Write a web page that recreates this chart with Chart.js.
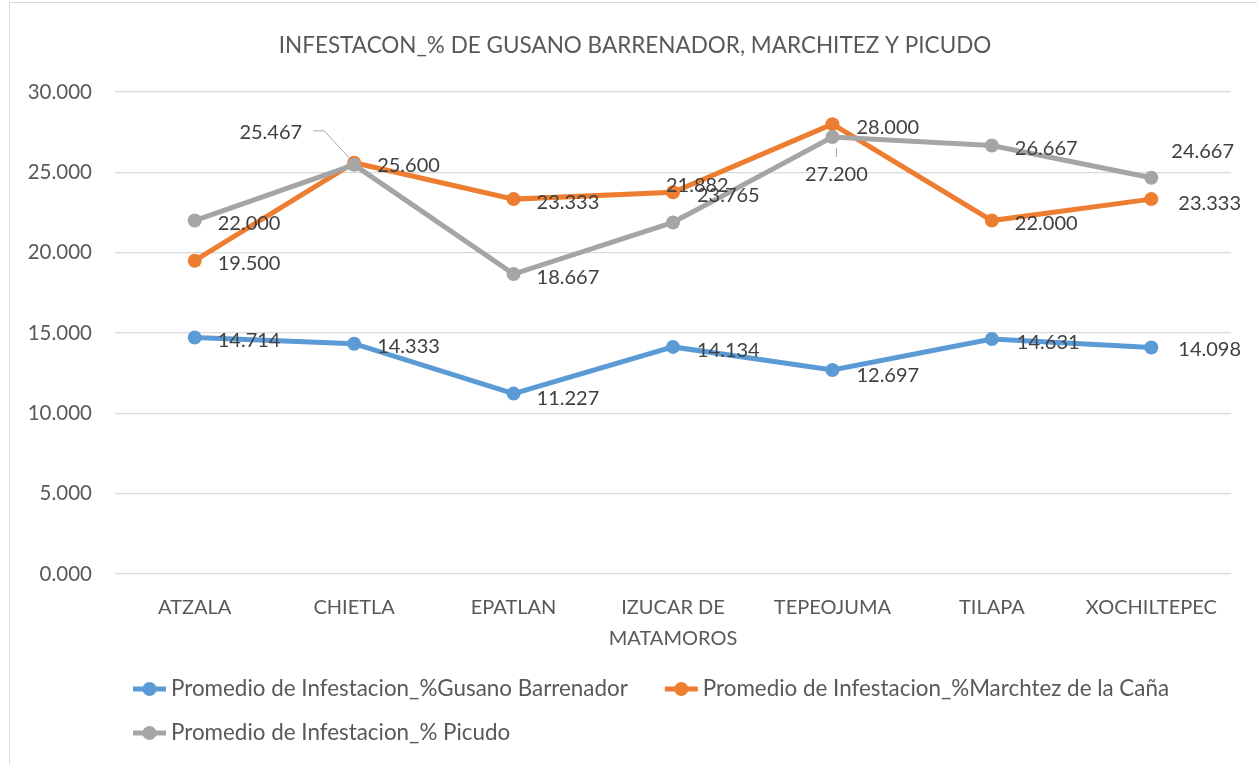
<!DOCTYPE html>
<html>
<head>
<meta charset="utf-8">
<script src="https://cdn.jsdelivr.net/npm/chart.js@4.4.1/dist/chart.umd.min.js"></script>
<style>
  html, body { margin: 0; padding: 0; background: #ffffff; }
  #wrap { width: 1257px; height: 764px; position: relative; }
</style>
</head>
<body>
<div id="wrap"><canvas id="c" width="1257" height="764"></canvas></div>
<script>
// ---- data ----
const categories = ['ATZALA', 'CHIETLA', 'EPATLAN', ['IZUCAR DE', 'MATAMOROS'], 'TEPEOJUMA', 'TILAPA', 'XOCHILTEPEC'];
const gusanoBarrenador = [14.714, 14.333, 11.227, 14.134, 12.697, 14.631, 14.098];
const marchitezCana    = [19.500, 25.600, 23.333, 23.765, 28.000, 22.000, 23.333];
const picudo           = [22.000, 25.467, 18.667, 21.882, 27.200, 26.667, 24.667];
const seriesNames = [
  'Promedio de Infestacion_%Gusano Barrenador',
  'Promedio de Infestacion_%Marchtez de la Caña',
  'Promedio de Infestacion_% Picudo'
];
const yTicks = [0, 5, 10, 15, 20, 25, 30];
const chartTitle = 'INFESTACON_% DE GUSANO BARRENADOR, MARCHITEZ Y PICUDO';

// ---- styles ----
const FONT = 'Lato, "Liberation Sans", sans-serif';
const colors = ['#5B9BD5', '#ED7D31', '#A5A5A5'];
const textColor = '#595959';
const labelColor = '#404040';

// label placement relative to point: dx = left edge (or right edge if align right / center), dy = vertical center
const D = { dx: 23, dy: 3, align: 'left' };
const labelPlacement = [
  [D, D, { dx: 23, dy: 5, align: 'left' }, { dx: 24, dy: 4, align: 'left' }, { dx: 24, dy: 6, align: 'left' }, { dx: 25, dy: 4, align: 'left' }, { dx: 27, dy: 2, align: 'left' }],
  [D, D, D, { dx: 24, dy: 3, align: 'left' }, { dx: 24, dy: 3, align: 'left' }, D, { dx: 27, dy: 4, align: 'left' }],
  [D,
   { dx: -52, dy: -32, align: 'right', leader: [[-41, -34], [-30, -34], [-4, -6]] },
   D,
   { dx: -7, dy: -37, align: 'left', leader: [[6, -6], [34, -19]] },
   { dx: 4, dy: 38, align: 'center', leader: [[4, 11], [4, 20]] },
   D,
   { dx: 20, dy: -26, align: 'left' }]
];

const borderPlugin = {
  id: 'outerBorder',
  beforeDraw(chart) {
    const ctx = chart.ctx;
    ctx.save();
    ctx.fillStyle = '#ffffff';
    ctx.fillRect(0, 0, chart.width, chart.height);
    ctx.strokeStyle = '#D9D9D9';
    ctx.lineWidth = 1;
    ctx.strokeRect(9.5, 2.5, 1260, 770);
    ctx.restore();
  }
};

const titlePlugin = {
  id: 'excelTitle',
  afterDraw(chart) {
    const ctx = chart.ctx;
    ctx.save();
    ctx.font = '22.5px ' + FONT;
    ctx.fillStyle = textColor;
    ctx.textAlign = 'center';
    ctx.textBaseline = 'middle';
    ctx.fillText(chartTitle, 635, 46);
    ctx.restore();
  }
};

const valueLabels = {
  id: 'valueLabels',
  afterDatasetsDraw(chart) {
    const ctx = chart.ctx;
    ctx.save();
    ctx.font = '20px ' + FONT;
    ctx.fillStyle = labelColor;
    ctx.textBaseline = 'middle';
    chart.data.datasets.forEach((ds, di) => {
      const meta = chart.getDatasetMeta(di);
      meta.data.forEach((pt, i) => {
        const p = labelPlacement[di][i];
        if (p.leader) {
          ctx.save();
          ctx.strokeStyle = '#A6A6A6';
          ctx.lineWidth = 1;
          ctx.beginPath();
          p.leader.forEach((q, k) => {
            const lx = pt.x + q[0], ly = pt.y + q[1];
            if (k === 0) ctx.moveTo(lx, ly); else ctx.lineTo(lx, ly);
          });
          ctx.stroke();
          ctx.restore();
        }
        ctx.textAlign = p.align;
        ctx.fillText(ds.data[i].toFixed(3), pt.x + p.dx, pt.y + p.dy);
      });
    });
    ctx.restore();
  }
};

const customLegend = {
  id: 'customLegend',
  afterDraw(chart) {
    const ctx = chart.ctx;
    ctx.save();
    ctx.font = '22.4px ' + FONT;
    ctx.textBaseline = 'middle';
    ctx.textAlign = 'left';
    const rows = [[0, 1], [2]];
    const rowY = [689, 733];
    rows.forEach((row, r) => {
      let x = 133;
      row.forEach(di => {
        const ds = chart.data.datasets[di];
        const y = rowY[r];
        ctx.strokeStyle = ds.borderColor;
        ctx.lineWidth = 5;
        ctx.beginPath(); ctx.moveTo(x, y); ctx.lineTo(x + 33, y); ctx.stroke();
        ctx.fillStyle = ds.borderColor;
        ctx.beginPath(); ctx.arc(x + 16.5, y, 7, 0, Math.PI * 2); ctx.fill();
        ctx.fillStyle = textColor;
        ctx.fillText(ds.label, x + 38, y);
        x += 38 + ctx.measureText(ds.label).width + 37;
      });
    });
    ctx.restore();
  }
};

const seriesData = [gusanoBarrenador, marchitezCana, picudo];
const datasets = seriesData.map((d, i) => ({
  label: seriesNames[i],
  data: d,
  borderColor: colors[i],
  backgroundColor: colors[i],
  borderWidth: 5,
  pointRadius: 7,
  pointHoverRadius: 7,
  pointBorderWidth: 0,
  pointBackgroundColor: colors[i],
  tension: 0,
  order: 3 - i
}));

new Chart(document.getElementById('c'), {
  type: 'line',
  data: { labels: categories, datasets },
  options: {
    responsive: false,
    animation: false,
    events: [],
    layout: { padding: { left: 15, right: 26, top: 92, bottom: 100 } },
    plugins: {
      legend: { display: false },
      tooltip: { enabled: false },
      title: { display: false }
    },
    scales: {
      y: {
        min: 0, max: 30,
        afterBuildTicks(scale) { scale.ticks = yTicks.map(v => ({ value: v })); },
        afterFit(scale) { scale.width = 100; },
        ticks: {
          color: textColor,
          font: { family: FONT, size: 20.5 },
          padding: 23,
          callback: v => Number(v).toFixed(3)
        },
        grid: { color: '#D9D9D9', lineWidth: 1.3, drawTicks: false },
        border: { display: false }
      },
      x: {
        offset: true,
        afterFit(scale) { scale.height = 90; },
        ticks: {
          color: textColor,
          font: { family: FONT, size: 20, lineHeight: 1.55 },
          padding: 18,
          maxRotation: 0,
          autoSkip: false
        },
        grid: { display: false, drawTicks: false, offset: true },
        border: { display: false }
      }
    }
  },
  plugins: [borderPlugin, valueLabels, titlePlugin, customLegend]
});
</script>
</body>
</html>
